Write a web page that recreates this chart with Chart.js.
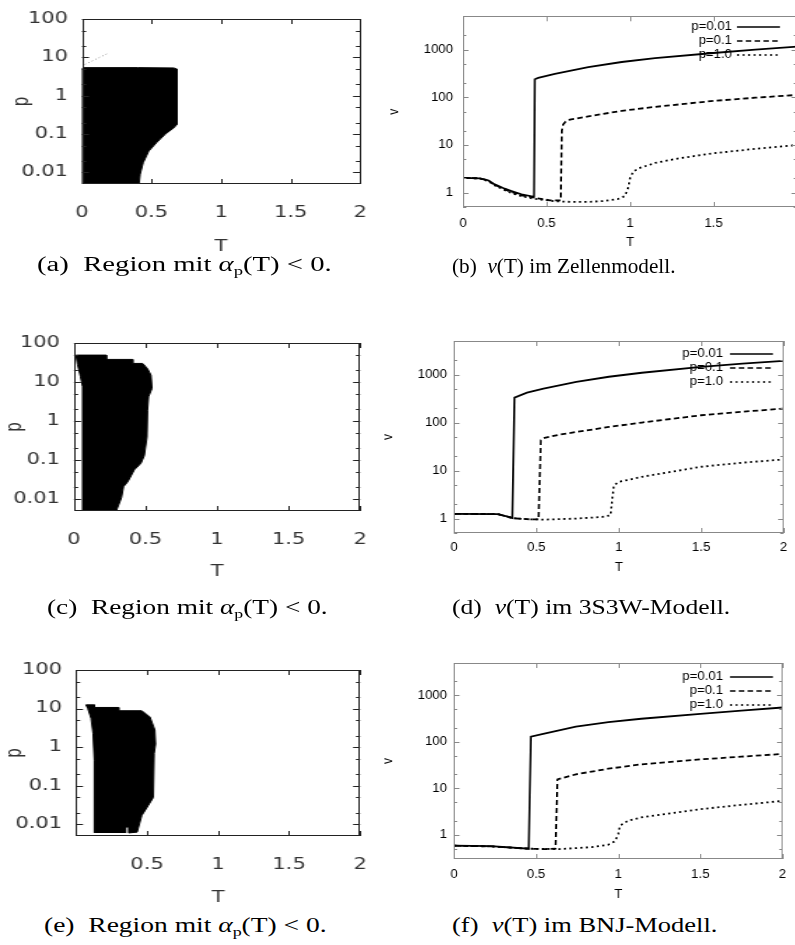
<!DOCTYPE html>
<html>
<head>
<meta charset="utf-8">
<script src="https://cdn.jsdelivr.net/npm/chart.js@4.4.1/dist/chart.umd.min.js"></script>
<style>
html, body { margin: 0; padding: 0; background: #fff; }
#page { position: relative; width: 795px; height: 945px; overflow: hidden; background: #fff; }
.panel { position: absolute; transform-origin: 0 0; }
.panel canvas { display: block; }
.cap { position: absolute; font-family: 'Liberation Serif', serif; font-size: 20px; line-height: 24px;
       white-space: nowrap; transform-origin: 0 50%; color: #000; }
.cap sub { font-size: 13px; vertical-align: -4px; line-height: 0; }
</style>
</head>
<body>
<div id="page"></div>
<script>
// ---- axis ticks ----
const tTicks = [0, 0.5, 1, 1.5, 2];
const pMajor = [0.01, 0.1, 1, 10, 100];
const pMinor = [0.02, 0.05, 0.2, 0.5, 2, 5, 20, 50];
const vMajor = [1, 10, 100, 1000];
const vMinor = [0.5, 2, 5, 20, 50, 200, 500, 2000];
const seriesLabels = ['p=0.01', 'p=0.1', 'p=1.0'];

// ---- regions with alpha_p(T) < 0 (outline, T / p) ----
const zellRegionT = [0, 0, 0.015, 0.4, 0.66, 0.68, 0.685, 0.683, 0.655, 0.6, 0.54, 0.48, 0.44, 0.418, 0.41];
const zellRegionP = [0.005, 5.2, 5.4, 5.4, 5.3, 5.0, 2.0, 0.18, 0.14, 0.1, 0.062, 0.036, 0.018, 0.009, 0.005];
const zellSpeckT = [0.02, 0.19];
const zellSpeckP = [6.5, 12.9];

const s3wRegionT = [0.06, 0.06, 0.045, 0.025, 0.014, 0.226, 0.226, 0.41, 0.41, 0.48, 0.514, 0.538, 0.545, 0.521, 0.514, 0.51, 0.491, 0.468, 0.422, 0.376, 0.346, 0.332, 0.295];
const s3wRegionP = [0.005, 7.6, 14, 28, 49, 49, 38, 38, 30, 30, 22, 15, 6.9, 4.2, 1.9, 0.39, 0.13, 0.083, 0.057, 0.028, 0.021, 0.011, 0.005];

const bnjRegionT = [0.129, 0.129, 0.12, 0.106, 0.083, 0.07, 0.13, 0.13, 0.30, 0.30, 0.463, 0.52, 0.555, 0.56, 0.55, 0.544, 0.509, 0.463, 0.43, 0.371, 0.371, 0.348, 0.348];
const bnjRegionP = [0.006, 0.46, 2.3, 5.6, 10.1, 12.5, 12.5, 10.7, 10.7, 8.8, 8.8, 6.1, 2.8, 1.2, 0.69, 0.05, 0.031, 0.017, 0.0063, 0.006, 0.0085, 0.0085, 0.006];

// ---- nu(T), Zellenmodell ----
const zellT001 = [0, 0.1, 0.15, 0.19, 0.25, 0.29, 0.35, 0.425, 0.43, 0.45, 0.55, 0.75, 0.95, 1.15, 1.5, 1.75, 2.0];
const zellV001 = [2.04, 2.0, 1.82, 1.49, 1.21, 1.08, 0.92, 0.82, 239, 255, 310, 430, 550, 665, 850, 1000, 1150];
const zellT01 = [0, 0.1, 0.15, 0.19, 0.25, 0.29, 0.35, 0.43, 0.52, 0.585, 0.592, 0.6, 0.615, 0.64, 0.75, 0.95, 1.15, 1.5, 1.75, 2.0];
const zellV01 = [2.04, 2.0, 1.8, 1.46, 1.17, 1.03, 0.88, 0.78, 0.69, 0.69, 20, 27, 31, 34, 39.8, 52, 63, 84, 98, 112];
const zellT1 = [0, 0.1, 0.15, 0.19, 0.25, 0.29, 0.35, 0.43, 0.55, 0.65, 0.75, 0.85, 0.93, 0.97, 0.99, 1.0, 1.02, 1.06, 1.15, 1.3, 1.5, 1.75, 2.0];
const zellV1 = [2.04, 1.98, 1.75, 1.42, 1.13, 0.98, 0.84, 0.74, 0.66, 0.64, 0.64, 0.67, 0.74, 0.85, 1.3, 2.0, 2.8, 3.3, 4.2, 5.3, 6.7, 8.3, 10];

// ---- nu(T), 3S3W-Modell ----
const s3wT001 = [0, 0.265, 0.313, 0.354, 0.367, 0.443, 0.543, 0.742, 0.94, 1.14, 1.5, 1.75, 2.0];
const s3wV001 = [1.25, 1.24, 1.13, 1.03, 331, 420, 510, 700, 900, 1090, 1450, 1690, 1930];
const s3wT01 = [0, 0.265, 0.313, 0.354, 0.44, 0.513, 0.527, 0.55, 0.64, 0.742, 0.94, 1.14, 1.5, 1.75, 2.0];
const s3wV01 = [1.25, 1.24, 1.12, 1.02, 0.97, 0.96, 42.8, 48, 56, 63.5, 81, 100, 142, 168, 195];
const s3wT1 = [0, 0.265, 0.313, 0.354, 0.44, 0.55, 0.742, 0.9, 0.95, 0.96, 0.97, 1.0, 1.14, 1.5, 1.75, 2.0];
const s3wV1 = [1.25, 1.24, 1.12, 1.02, 0.97, 0.95, 1.0, 1.08, 1.17, 2.5, 4.9, 5.8, 7.4, 12.0, 14.6, 17];

// ---- nu(T), BNJ-Modell ----
const bnjT001 = [0, 0.225, 0.455, 0.468, 0.543, 0.742, 0.94, 1.14, 1.5, 1.75, 2.0];
const bnjV001 = [0.58, 0.57, 0.50, 129, 149, 212, 265, 315, 400, 470, 550];
const bnjT01 = [0, 0.225, 0.455, 0.55, 0.618, 0.63, 0.742, 0.94, 1.14, 1.5, 1.75, 2.0];
const bnjV01 = [0.58, 0.56, 0.5, 0.49, 0.5, 15.6, 20, 26.4, 32.8, 41.9, 48, 55];
const bnjT1 = [0, 0.225, 0.455, 0.64, 0.84, 0.94, 0.98, 1.0, 1.01, 1.06, 1.14, 1.5, 1.75, 2.0];
const bnjV1 = [0.58, 0.56, 0.5, 0.49, 0.54, 0.61, 0.72, 1.03, 1.56, 2.0, 2.36, 3.55, 4.4, 5.34];

const pts = (xs, ys) => xs.map((x, i) => ({x: x, y: ys[i]}));

// gnuplot style frame with inward ticks on all four sides
const frameTicks = {
  id: 'frameTicks',
  afterDatasetsDraw(chart, args, o) {
    const {ctx, chartArea: a, scales: {x, y}} = chart;
    ctx.save();
    ctx.strokeStyle = o.color;
    ctx.lineWidth = 1;
    ctx.setLineDash([]);
    ctx.beginPath();
    x.ticks.forEach(t => {
      const px = Math.round(x.getPixelForValue(t.value)) + 0.5;
      ctx.moveTo(px, a.bottom); ctx.lineTo(px, a.bottom - o.major);
      ctx.moveTo(px, a.top); ctx.lineTo(px, a.top + o.major);
    });
    const yTick = (v, len) => {
      if (v < y.min || v > y.max) return;
      const py = Math.round(y.getPixelForValue(v)) + 0.5;
      ctx.moveTo(a.left, py); ctx.lineTo(a.left + len, py);
      ctx.moveTo(a.right, py); ctx.lineTo(a.right - len, py);
    };
    o.majorY.forEach(v => yTick(v, o.major));
    o.minorY.forEach(v => yTick(v, o.minor));
    ctx.stroke();
    ctx.strokeRect(Math.round(a.left) + 0.5, Math.round(a.top) + 0.5, Math.round(a.width) - 1, Math.round(a.height) - 1);
    ctx.restore();
  }
};

// key drawn inside the plot, text right aligned, sample line to the right
const curveKey = {
  id: 'curveKey',
  beforeDatasetsDraw(chart, args, o) {
    if (!o.rows) return;
    const ctx = chart.ctx;
    ctx.save();
    ctx.font = o.font;
    ctx.fillStyle = '#000';
    ctx.textAlign = 'right';
    ctx.textBaseline = 'middle';
    chart.data.datasets.forEach((ds, i) => {
      const y = o.rows[i];
      ctx.fillText(ds.label, o.textRight, y);
      ctx.beginPath();
      ctx.setLineDash(ds.borderDash || []);
      ctx.lineWidth = o.lineWidth;
      ctx.strokeStyle = '#000';
      ctx.moveTo(o.x1, y);
      ctx.lineTo(o.x2, y);
      ctx.stroke();
    });
    ctx.restore();
  }
};

function addPanel(p) {
  const S = p.S;
  const cw = Math.round((p.right - p.x0) / S);
  const ch = p.bottom - p.y0;
  const lh = p.fontSize * 1.2;
  const wrap = document.createElement('div');
  wrap.className = 'panel';
  wrap.style.left = p.x0 + 'px';
  wrap.style.top = p.y0 + 'px';
  wrap.style.transform = 'scaleX(' + S + ')';
  const canvas = document.createElement('canvas');
  canvas.width = cw; canvas.height = ch;
  canvas.style.width = cw + 'px'; canvas.style.height = ch + 'px';
  wrap.appendChild(canvas);
  document.getElementById('page').appendChild(wrap);

  const toX = px => (px - p.x0) / S;
  const yW = toX(p.plotL);
  const padRight = cw - toX(p.plotR);
  const xH = p.bottom - p.plotB;
  const font = {family: p.family, size: p.fontSize, lineHeight: 1.2};

  let key = {};
  if (p.key) {
    key = {
      rows: p.key.rows.map(r => r - p.y0),
      textRight: toX(p.key.textRight), x1: toX(p.key.x1), x2: toX(p.key.x2),
      font: p.fontSize + 'px ' + p.family, lineWidth: 1.5
    };
  }

  new Chart(canvas, {
    type: 'scatter',
    data: {datasets: p.datasets},
    plugins: [curveKey, frameTicks],
    options: {
      responsive: false,
      animation: false,
      devicePixelRatio: 1,
      layout: {padding: {top: p.plotT - p.y0, right: padRight, left: 0, bottom: 0}, autoPadding: false},
      plugins: {
        legend: {display: false},
        tooltip: {enabled: false},
        frameTicks: {color: p.frameColor, major: 5, minor: 3, majorY: p.majorY, minorY: p.minorY},
        curveKey: key
      },
      scales: {
        x: {
          type: 'linear', min: 0, max: 2,
          afterBuildTicks: s => { s.ticks = tTicks.map(v => ({value: v})); },
          afterFit: s => { s.height = xH; },
          ticks: {
            padding: p.xLabelY - p.plotB - lh / 2, color: p.textColor, font: font,
            maxRotation: 0, autoSkip: false,
            callback: v => (p.hideT.indexOf(v) >= 0 ? '' : String(v))
          },
          grid: {display: false, drawTicks: false},
          border: {display: false},
          title: {display: true, text: 'T', color: p.textColor, font: font,
                  padding: {top: 0, bottom: p.bottom - p.xTitleY - lh / 2}}
        },
        y: {
          type: 'logarithmic', min: p.yMin, max: p.yMax,
          afterBuildTicks: s => { s.ticks = p.majorY.map(v => ({value: v})); },
          afterFit: s => { s.width = yW; },
          ticks: {
            padding: (p.plotL - p.yLabelRight) / S, color: p.textColor, font: font,
            autoSkip: false, callback: v => String(v)
          },
          grid: {display: false, drawTicks: false},
          border: {display: false},
          title: {display: true, text: p.yTitle, color: p.textColor, font: font,
                  padding: {top: Math.max(0, toX(p.yTitleX) - lh / 2), bottom: 0}}
        }
      }
    }
  });
}

const regionSet = (xs, ys) => ({
  data: pts(xs, ys), showLine: true, fill: 'shape', pointRadius: 0,
  backgroundColor: '#000', borderColor: '#000', borderWidth: 1
});
const curveSets = (series) => series.map((s, i) => ({
  label: seriesLabels[i], data: pts(s[0], s[1]), showLine: true, fill: false, pointRadius: 0,
  borderColor: '#000', borderWidth: 1.8, borderDash: [[], [5, 3], [2, 3]][i]
}));

const leftBase = {
  S: 1.4, family: "'DejaVu Sans'", fontSize: 15, textColor: '#333', frameColor: '#222',
  yMin: 0.005, yMax: 100, majorY: pMajor, minorY: pMinor, yTitle: 'p', x0: 0, right: 395
};
const rightBase = {
  S: 1.1, family: "'Liberation Sans'", fontSize: 12, textColor: '#000', frameColor: '#888',
  majorY: vMajor, minorY: vMinor, yTitle: 'v', yMax: 5000
};

// (a)
addPanel(Object.assign({}, leftBase, {
  y0: 0, bottom: 256, plotL: 82, plotR: 374, plotT: 16, plotB: 184,
  yLabelRight: 68, yTitleX: 23, xLabelY: 213, xTitleY: 247, hideT: [],
  datasets: [regionSet(zellRegionT, zellRegionP),
    {data: pts(zellSpeckT, zellSpeckP), showLine: true, pointRadius: 0, borderColor: '#999', borderWidth: 1, borderDash: [1, 2]}]
}));
// (c)
addPanel(Object.assign({}, leftBase, {
  y0: 300, bottom: 581, plotL: 74, plotR: 363, plotT: 343, plotB: 511,
  yLabelRight: 60, yTitleX: 15, xLabelY: 540, xTitleY: 572, hideT: [],
  datasets: [regionSet(s3wRegionT, s3wRegionP)]
}));
// (e)
addPanel(Object.assign({}, leftBase, {
  y0: 620, bottom: 907, plotL: 76, plotR: 367, plotT: 670, plotB: 836,
  yLabelRight: 62, yTitleX: 15, xLabelY: 865, xTitleY: 898, hideT: [0],
  datasets: [regionSet(bnjRegionT, bnjRegionP)]
}));
// (b)
addPanel(Object.assign({}, rightBase, {
  x0: 386, right: 812, y0: 0, bottom: 250, plotL: 463, plotR: 797, plotT: 14, plotB: 207,
  yMin: 0.5, yLabelRight: 453, yTitleX: 395, xLabelY: 224, xTitleY: 243, hideT: [2],
  key: {rows: [27, 41, 55], textRight: 732, x1: 737, x2: 780},
  datasets: curveSets([[zellT001, zellV001], [zellT01, zellV01], [zellT1, zellV1]])
}));
// (d)
addPanel(Object.assign({}, rightBase, {
  x0: 380, right: 796, y0: 300, bottom: 575, plotL: 454, plotR: 789, plotT: 341, plotB: 533,
  yMin: 0.5, yLabelRight: 447, yTitleX: 388, xLabelY: 548, xTitleY: 568, hideT: [],
  key: {rows: [354, 368, 382], textRight: 723, x1: 730, x2: 773},
  datasets: curveSets([[s3wT001, s3wV001], [s3wT01, s3wV01], [s3wT1, s3wV1]])
}));
// (f)
addPanel(Object.assign({}, rightBase, {
  x0: 380, right: 796, y0: 620, bottom: 902, plotL: 454, plotR: 789, plotT: 663, plotB: 859,
  yMin: 0.3, yLabelRight: 447, yTitleX: 388, xLabelY: 875, xTitleY: 895, hideT: [],
  key: {rows: [677, 691, 705], textRight: 723, x1: 730, x2: 773},
  datasets: curveSets([[bnjT001, bnjV001], [bnjT01, bnjV01], [bnjT1, bnjV1]])
}));

// captions: centre (left column) or left edge (right column), target width in px
const captions = [
  {html: '(a)&nbsp; Region mit <i>α</i><sub>p</sub>(T) &lt; 0.', cx: 184, cy: 264, w: 294},
  {html: '(b)&nbsp; <i>ν</i>(T) im Zellenmodell.', left: 452, cy: 266, w: 224},
  {html: '(c)&nbsp; Region mit <i>α</i><sub>p</sub>(T) &lt; 0.', cx: 187, cy: 607, w: 280},
  {html: '(d)&nbsp; <i>ν</i>(T) im 3S3W-Modell.', left: 452, cy: 607, w: 278},
  {html: '(e)&nbsp; Region mit <i>α</i><sub>p</sub>(T) &lt; 0.', cx: 185, cy: 925, w: 282},
  {html: '(f)&nbsp; <i>ν</i>(T) im BNJ-Modell.', left: 452, cy: 925, w: 266}
];
captions.forEach(c => {
  const el = document.createElement('div');
  el.className = 'cap';
  el.innerHTML = c.html;
  el.style.top = (c.cy - 12) + 'px';
  document.getElementById('page').appendChild(el);
  const k = c.w / el.offsetWidth;
  el.style.transform = 'scaleX(' + k + ')';
  el.style.left = (c.cx !== undefined ? c.cx - c.w / 2 : c.left) + 'px';
});
</script>
</body>
</html>
